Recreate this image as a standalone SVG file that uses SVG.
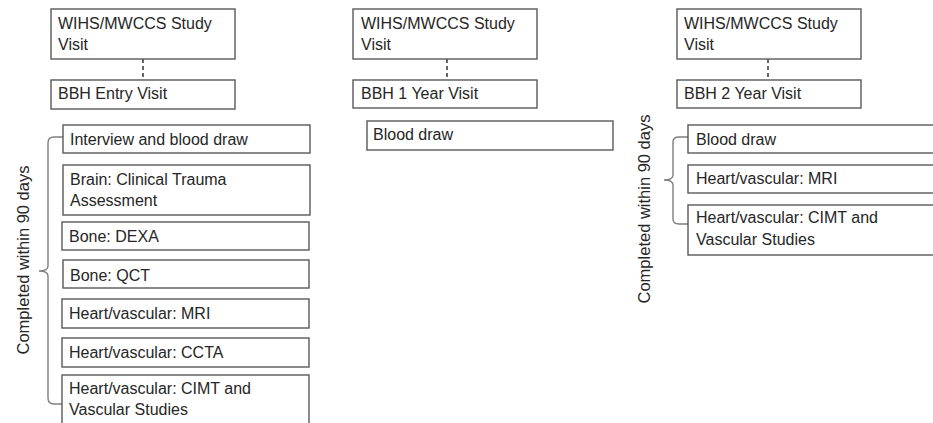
<svg xmlns="http://www.w3.org/2000/svg" width="933" height="423" viewBox="0 0 933 423">
<style>
.box{fill:#ffffff;stroke:#595959;stroke-width:1.4}
.t{font-family:"Liberation Sans","Open Sans",Arial,sans-serif;font-size:16px;fill:#262626}
.rt{font-family:"Liberation Sans","Open Sans",Arial,sans-serif;font-size:16.5px;fill:#262626}
.dash{stroke:#404040;stroke-width:1.6;stroke-dasharray:4,3;fill:none}
.brace{stroke:#7f7f7f;stroke-width:1.4;fill:none}
</style>
<rect width="933" height="423" fill="#ffffff"/>
<g id="connectors">
<line class="dash" x1="143" y1="59" x2="143" y2="80"/>
<line class="dash" x1="447" y1="38" x2="447" y2="80"/>
<line class="dash" x1="768" y1="38" x2="768" y2="80"/>
<path class="brace" d="M63,137 L54,137 Q48,137 48,143 L48,266 Q48,271 39,271 Q48,271 48,276 L48,398 Q48,404 54,404 L63,404"/>
<path class="brace" d="M688,137 L679,137 Q673,137 673,142 L673,175 Q673,180 664,180 Q673,180 673,185 L673,219 Q673,224 679,224 L688,224"/>
</g>
<g id="left-study"><rect class="box" x="51" y="9" width="184" height="50"/><text class="t" x="58" y="29">WIHS/MWCCS Study</text><text class="t" x="58" y="50">Visit</text></g>
<g id="left-entry"><rect class="box" x="51" y="80" width="184" height="29"/><text class="t" x="58" y="99">BBH Entry Visit</text></g>
<g id="left-interview"><rect class="box" x="63" y="125" width="247" height="28"/><text class="t" x="70" y="145">Interview and blood draw</text></g>
<g id="left-brain"><rect class="box" x="63" y="165" width="247" height="50"/><text class="t" x="70" y="185">Brain: Clinical Trauma</text><text class="t" x="70" y="206">Assessment</text></g>
<g id="left-dexa"><rect class="box" x="62" y="222" width="247" height="28"/><text class="t" x="69" y="242">Bone: DEXA</text></g>
<g id="left-qct"><rect class="box" x="63" y="260" width="246" height="28"/><text class="t" x="70" y="281">Bone: QCT</text></g>
<g id="left-mri"><rect class="box" x="62" y="299" width="247" height="29"/><text class="t" x="69" y="319">Heart/vascular: MRI</text></g>
<g id="left-ccta"><rect class="box" x="62" y="338" width="247" height="29"/><text class="t" x="69" y="358">Heart/vascular: CCTA</text></g>
<g id="left-cimt"><rect class="box" x="62" y="375" width="247" height="60"/><text class="t" x="69" y="394">Heart/vascular: CIMT and</text><text class="t" x="69" y="415">Vascular Studies</text></g>
<g id="left-label"><text class="rt" text-anchor="middle" transform="translate(29,260) rotate(-90)">Completed within 90 days</text></g>
<g id="mid-study"><rect class="box" x="353" y="9" width="184" height="50"/><text class="t" x="361" y="29">WIHS/MWCCS Study</text><text class="t" x="361" y="50">Visit</text></g>
<g id="mid-year1"><rect class="box" x="353" y="80" width="184" height="28"/><text class="t" x="361" y="99">BBH 1 Year Visit</text></g>
<g id="mid-blood"><rect class="box" x="367" y="121" width="246" height="29"/><text class="t" x="373" y="140">Blood draw</text></g>
<g id="right-study"><rect class="box" x="677" y="9" width="184" height="50"/><text class="t" x="684" y="29">WIHS/MWCCS Study</text><text class="t" x="684" y="50">Visit</text></g>
<g id="right-year2"><rect class="box" x="677" y="80" width="184" height="28"/><text class="t" x="684" y="99">BBH 2 Year Visit</text></g>
<g id="right-blood"><rect class="box" x="688" y="125" width="260" height="28"/><text class="t" x="696" y="145">Blood draw</text></g>
<g id="right-mri"><rect class="box" x="688" y="165" width="260" height="28"/><text class="t" x="696" y="184">Heart/vascular: MRI</text></g>
<g id="right-cimt"><rect class="box" x="688" y="205" width="260" height="50"/><text class="t" x="696" y="223">Heart/vascular: CIMT and</text><text class="t" x="696" y="245">Vascular Studies</text></g>
<g id="right-label"><text class="rt" text-anchor="middle" transform="translate(650,209) rotate(-90)">Completed within 90 days</text></g>
</svg>
